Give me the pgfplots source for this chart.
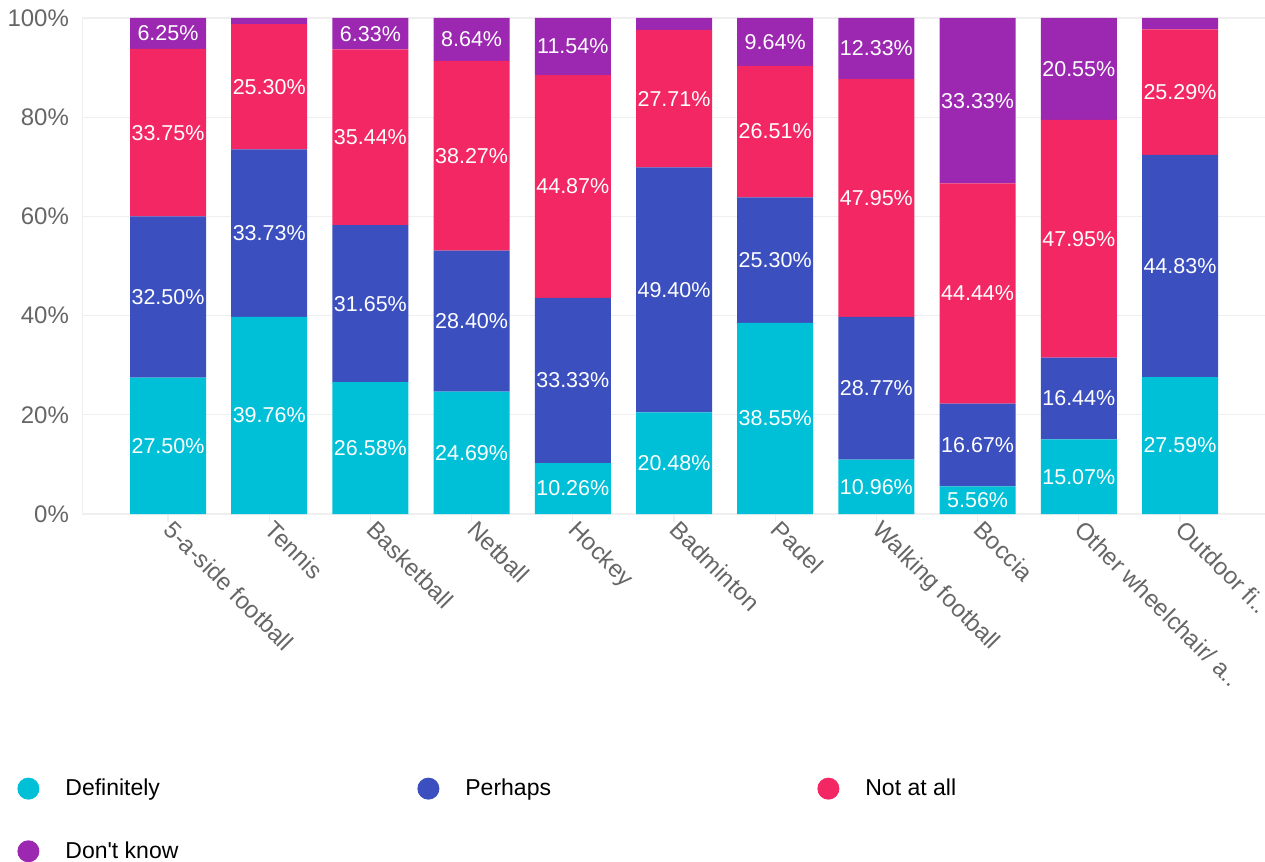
\documentclass[border=0pt]{standalone}
\usepackage{fontspec}
\setmainfont{Liberation Sans}
\usepackage{pgfplots}
\usepackage{pgfplotstable}
\pgfplotsset{compat=1.18}

\definecolor{cdef}{HTML}{00C0D7}
\definecolor{cper}{HTML}{3B4FBE}
\definecolor{cnot}{HTML}{F22763}
\definecolor{cdk}{HTML}{9C27B0}
\definecolor{gridc}{HTML}{EFEFEF}
\definecolor{tickc}{HTML}{666666}

% shares per sport, in percent
\pgfplotstableread{
x  def    per    not    dk
0  27.50  32.50  33.75  6.25
1  39.76  33.73  25.30  1.21
2  26.58  31.65  35.44  6.33
3  24.69  28.40  38.27  8.64
4  10.26  33.33  44.87  11.54
5  20.48  49.40  27.71  2.41
6  38.55  25.30  26.51  9.64
7  10.96  28.77  47.95  12.33
8  5.56   16.67  44.44  33.33
9  15.07  16.44  47.95  20.55
10 27.59  44.83  25.29  2.29
}\shares
% middle of each segment, for the labels
\pgfplotstablecreatecol[expr={\thisrow{def}/2}]{mdef}\shares
\pgfplotstablecreatecol[expr={\thisrow{def}+\thisrow{per}/2}]{mper}\shares
\pgfplotstablecreatecol[expr={\thisrow{def}+\thisrow{per}+\thisrow{not}/2}]{mnot}\shares
\pgfplotstablecreatecol[expr={\thisrow{def}+\thisrow{per}+\thisrow{not}+\thisrow{dk}/2}]{mdk}\shares

\pgfplotsset{
  frame/.style={scale only axis, width=591.5pt, height=248pt,
    at={(0,0)}, anchor=south west,
    xmin=-0.85, xmax=10.84, ymin=0, ymax=100},
  seglab/.style={draw=none, mark=none,
    visualization depends on={\thisrow{#1} \as \seg},
    nodes near coords={\ifdim\seg pt>3pt \pgfmathprintnumber[fixed,fixed zerofill,precision=2,assume math mode=true]{\seg}\%\fi},
    every node near coord/.append style={font=\fontsize{10.75pt}{12pt}\selectfont, text=white, anchor=center, inner sep=0pt}},
}

\begin{document}
\begin{tikzpicture}
\useasboundingbox (-41pt,-174pt) rectangle (591.5pt,257pt);
\begin{axis}[
  frame,
  ybar stacked, bar width=38pt,
  every axis plot post/.append style={legend image code/.code={%
    \path[fill=none,draw=none] (-5.5pt,-5.5pt) rectangle (16.5pt,5.5pt);
    \fill[##1,draw=none] (0pt,0pt) circle (5.5pt);}},
  xtick={0,...,10},
  xticklabels={5-a-side football,Tennis,Basketball,Netball,Hockey,Badminton,Padel,Walking football,Boccia,Other wheelchair/ a..,Outdoor fi..},
  ytick={0,20,...,100},
  yticklabels={0\%,20\%,40\%,60\%,80\%,100\%},
  axis x line*=bottom, axis y line*=left,
  axis line style={draw=gridc},
  ymajorgrids, grid style={draw=gridc, line width=0.6pt},
  tick align=outside, major tick length=4pt,
  xtick style={draw=gridc, line width=0.6pt},
  ytick style={draw=none},
  x tick label style={rotate=-45, anchor=north west, xshift=-2pt, yshift=7pt,
    font=\fontsize{12pt}{14pt}\selectfont, text=tickc},
  y tick label style={xshift=1pt, font=\fontsize{12pt}{14pt}\selectfont, text=tickc},
  legend columns=3,
  legend style={draw=none, fill=none, inner sep=0pt, at={(-0.05495,-0.525)}, anchor=north west,
    font=\fontsize{11.5pt}{13pt}\selectfont, row sep=17.5pt},
  legend cell align=left,
]
\addplot[fill=cdef, draw=none] table[x=x, y=def] {\shares};
\addlegendentry{\makebox[174pt][l]{Definitely}}
\addplot[fill=cper, draw=none] table[x=x, y=per] {\shares};
\addlegendentry{\makebox[174pt][l]{Perhaps}}
\addplot[fill=cnot, draw=none] table[x=x, y=not] {\shares};
\addlegendentry{\makebox[174pt][l]{Not at all}}
\addplot[fill=cdk, draw=none] table[x=x, y=dk] {\shares};
\addlegendentry{Don\textquotesingle t know}
\end{axis}
\begin{axis}[frame, hide axis]
\addplot[seglab=def] table[x=x, y=mdef] {\shares};
\addplot[seglab=per] table[x=x, y=mper] {\shares};
\addplot[seglab=not] table[x=x, y=mnot] {\shares};
\addplot[seglab=dk] table[x=x, y=mdk] {\shares};
\end{axis}
\end{tikzpicture}
\end{document}
